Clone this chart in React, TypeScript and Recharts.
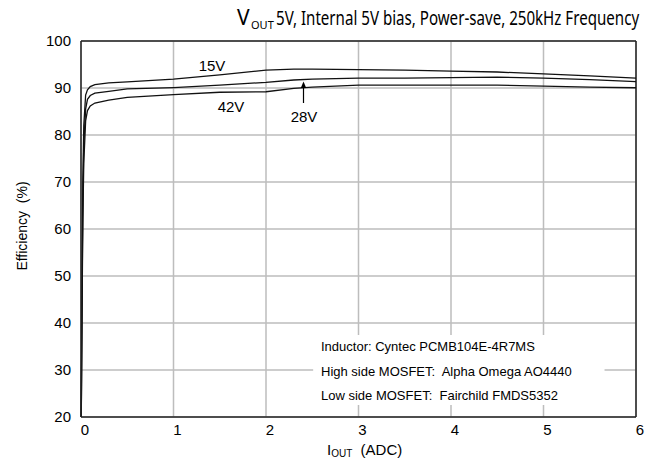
import React, { useLayoutEffect, useRef, useState } from 'react';
import { LineChart, Line, XAxis, YAxis, CartesianGrid, ReferenceLine, ReferenceArea } from 'recharts';

// output current (A) sample points
const I_OUT = [0.003, 0.01, 0.02, 0.03, 0.05, 0.07, 0.1, 0.15, 0.3, 0.5, 1.0, 1.5, 2.0, 2.3, 2.5, 3.0, 3.5, 4.0, 4.5, 5.0, 5.5, 6.0];

// efficiency (%) per input voltage
const EFF_15V = [20, 45, 70, 82, 88.5, 89.6, 90.3, 90.7, 91.1, 91.3, 91.9, 92.8, 93.8, 94.0, 94.0, 93.9, 93.8, 93.6, 93.4, 93.0, 92.6, 92.1];
const EFF_28V = [20, 42, 66, 78, 85.5, 87.6, 88.4, 88.9, 89.3, 89.8, 90.1, 90.6, 91.2, 91.7, 91.9, 92.1, 92.1, 92.2, 92.3, 92.1, 91.8, 91.35];
const EFF_42V = [20, 40, 62, 74, 83, 85.2, 86.2, 86.8, 87.4, 88.0, 88.6, 89.1, 89.2, 89.9, 90.2, 90.6, 90.6, 90.6, 90.6, 90.4, 90.2, 90.05];

const X_TICKS = [0, 1, 2, 3, 4, 5, 6];
const Y_TICKS = [20, 30, 40, 50, 60, 70, 80, 90, 100];

const NOTES = [
  'Inductor: Cyntec PCMB104E-4R7MS',
  'High side MOSFET:  Alpha Omega AO4440',
  'Low side MOSFET:  Fairchild FMDS5352',
];

const data = I_OUT.map((x, i) => ({ x, v15: EFF_15V[i], v28: EFF_28V[i], v42: EFF_42V[i] }));

const FONT = '"Liberation Sans", Arial, sans-serif';
const TITLE_FONT = '"Noto Sans", sans-serif';
const AXIS = '#222';
const LINE = '#111';

// title body is narrow in the original (condensed face), squeeze it to fit
const TitleBody = ({ x, y, width }: { x: number; y: number; width: number }) => {
  const ref = useRef<SVGTextElement>(null);
  const [sx, setSx] = useState(0.7);
  useLayoutEffect(() => {
    if (ref.current) {
      const w = ref.current.getComputedTextLength();
      if (w > 0) setSx(width / w);
    }
  }, [width]);
  return (
    <text
      ref={ref}
      x={0}
      y={0}
      transform={`translate(${x} ${y}) scale(${sx} 1)`}
      fontSize={20}
      fontFamily={TITLE_FONT}
      fill="#000"
    >
      {'5V, Internal 5V bias, Power-save, 250kHz Frequency'}
    </text>
  );
};

export default function App() {
  return (
    <div style={{ position: 'absolute', left: 0, top: 0, width: 660, height: 460, background: '#fff' }}>
      <LineChart width={660} height={460} data={data} margin={{ top: 41, right: 24, bottom: 0, left: 0 }}>
        <CartesianGrid stroke="#bdbdbd" strokeWidth={1.5} />
        <ReferenceArea x1={2.51} x2={5.66} y1={22.55} y2={37.45} fill="#fff" fillOpacity={1} stroke="none" />
        <XAxis
          dataKey="x"
          type="number"
          domain={[0, 6]}
          ticks={X_TICKS}
          height={43}
          tickSize={0}
          tickMargin={7}
          axisLine={{ stroke: AXIS, strokeWidth: 1.5 }}
          tick={{ fill: '#000', fontSize: 15, fontFamily: FONT, dx: 4 }}
        />
        <YAxis
          type="number"
          domain={[20, 100]}
          ticks={Y_TICKS}
          width={81}
          tickSize={0}
          tickMargin={10}
          axisLine={{ stroke: AXIS, strokeWidth: 1.5 }}
          tick={{ fill: '#000', fontSize: 15, fontFamily: FONT }}
        />
        <ReferenceLine y={100} stroke={AXIS} strokeWidth={1.5} />
        <ReferenceLine x={6} stroke={AXIS} strokeWidth={1.5} />
        <Line type="linear" dataKey="v15" stroke={LINE} strokeWidth={1.3} dot={false} isAnimationActive={false} />
        <Line type="linear" dataKey="v28" stroke={LINE} strokeWidth={1.3} dot={false} isAnimationActive={false} />
        <Line type="linear" dataKey="v42" stroke={LINE} strokeWidth={1.3} dot={false} isAnimationActive={false} />
      </LineChart>

      <svg width={660} height={460} style={{ position: 'absolute', left: 0, top: 0, pointerEvents: 'none' }}>
        {/* title */}
        <text x={237} y={25} fontSize={21} fontFamily={TITLE_FONT} fill="#000">V</text>
        <text x={251} y={29} fontSize={11} fontFamily={TITLE_FONT} fill="#000">OUT</text>
        <TitleBody x={276} y={25} width={363} />

        {/* axis titles */}
        <text
          x={22}
          y={226}
          transform="rotate(-90 22 226)"
          textAnchor="middle"
          dominantBaseline="central"
          fontSize={14}
          fontFamily={FONT}
          style={{ whiteSpace: 'pre' }}
        >
          {'Efficiency  (%)'}
        </text>
        <text x={327} y={455} fontSize={15} fontFamily={FONT} style={{ whiteSpace: 'pre' }}>
          I<tspan fontSize={10} dy={2}>OUT</tspan>
          <tspan dy={-2}>{'  (ADC)'}</tspan>
        </text>

        {/* curve labels */}
        <text x={212} y={71} textAnchor="middle" fontSize={15} fontFamily={FONT}>15V</text>
        <text x={231} y={112} textAnchor="middle" fontSize={15} fontFamily={FONT}>42V</text>
        <text x={304} y={122} textAnchor="middle" fontSize={15} fontFamily={FONT}>28V</text>
        <line x1={303.5} y1={103} x2={303.5} y2={86} stroke="#000" strokeWidth={1.2} />
        <polygon points="303.5,81.5 300.8,88 306.2,88" fill="#000" />

        {/* component notes */}
        {NOTES.map((t, i) => (
          <text key={t} x={321} y={351 + i * 24.5} fontSize={13} fontFamily={FONT} style={{ whiteSpace: 'pre' }}>
            {t}
          </text>
        ))}
      </svg>
    </div>
  );
}
